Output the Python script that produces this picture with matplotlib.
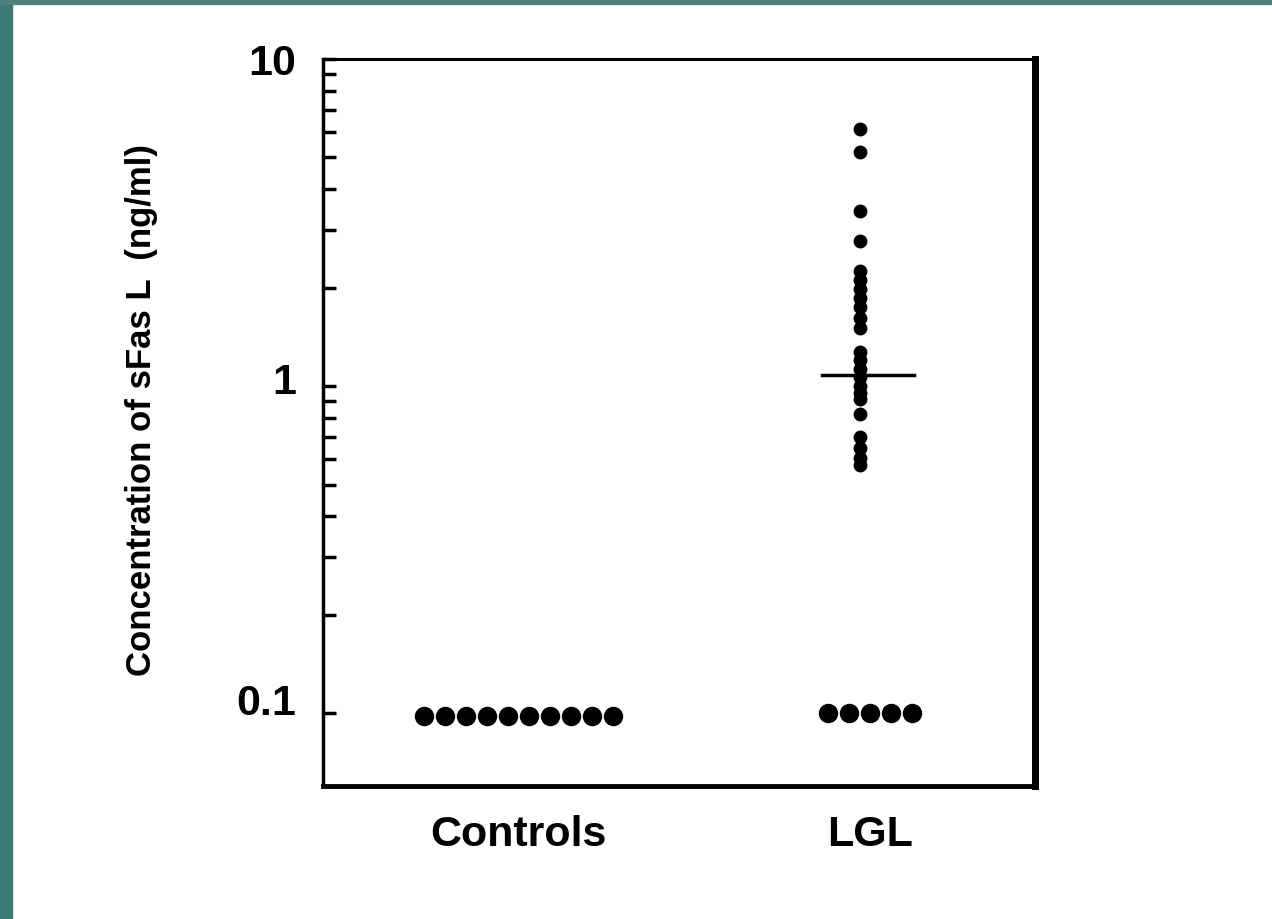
#grafico de concentracao de sFas L (controles x LGL)
import matplotlib.pyplot as plt
import matplotlib.patches as patches
import matplotlib.transforms as mtransforms
from matplotlib.ticker import NullFormatter, FixedLocator

#dados
grupos = ['Controls', 'LGL']
controles = [0.098]*10
lgl_zero = [0.1]*5
lgl = [6.1, 5.2, 3.42, 2.78, 2.25, 2.11, 1.98, 1.86, 1.74, 1.62, 1.51,
       1.27, 1.20, 1.13, 1.07, 1.0, 0.953, 0.914, 0.824, 0.698, 0.647,
       0.604, 0.575]
mediana_lgl = 1.08

plt.rcParams['font.family'] = ['Liberation Sans', 'DejaVu Sans']

fig = plt.figure(figsize=(12.72, 9.2), dpi=100)
fig.patch.set_facecolor('white')

#moldura verde-azulada da apresentacao
fig.patches.append(patches.Rectangle((0, 0), 12/1272, 1, transform=fig.transFigure,
                                     color='#3a7a77', zorder=0))
fig.patches.append(patches.Rectangle((0, 1-5/920), 1, 5/920, transform=fig.transFigure,
                                     color='#4e807c', zorder=0))

ax = fig.add_axes([323/1272, 1-787/920, (1035-323)/1272, (787-60)/920])
ax.set_yscale('log')
ax.set_ylim(0.06, 10)
ax.set_xlim(0.426, 2.514)

esp = 0.0616
xc = [1 + (i - (len(controles)-1)/2)*esp for i in range(len(controles))]
ax.plot(xc, controles, 'o', color='black', markersize=14, markeredgewidth=0)
xz = [2.03 + (i - (len(lgl_zero)-1)/2)*esp for i in range(len(lgl_zero))]
ax.plot(xz, lgl_zero, 'o', color='black', markersize=14, markeredgewidth=0)
ax.plot([2.0]*len(lgl), lgl, 'o', color='black', markersize=10, markeredgewidth=0)
ax.plot([1.89, 2.16], [mediana_lgl, mediana_lgl], color='black', lw=2.5)

#eixos
ax.spines['left'].set_linewidth(2.5)
ax.spines['top'].set_linewidth(2.2)
ax.spines['right'].set_linewidth(5)
ax.spines['bottom'].set_linewidth(3.5)

#ticks menores so entre 0.1 e 10
menores = [m*d for d in (0.1, 1) for m in range(2, 10)]
ax.yaxis.set_major_locator(FixedLocator([0.1, 1, 10]))
ax.yaxis.set_minor_locator(FixedLocator(menores))
ax.yaxis.set_minor_formatter(NullFormatter())
ax.set_yticklabels(['0.1', '1', '10'])
ax.tick_params(axis='y', which='both', direction='in', length=9, width=2.5,
               labelsize=31, pad=19)
desloc = {'0.1': 15, '1': 9, '10': 0}
for lab in ax.get_yticklabels():
    lab.set_fontweight('bold')
    off = mtransforms.ScaledTranslation(0, desloc[lab.get_text()]/100, fig.dpi_scale_trans)
    lab.set_transform(lab.get_transform() + off)

ax.set_xticks([1, 2.03])
ax.set_xticklabels(grupos, fontsize=31, fontweight='bold')
ax.tick_params(axis='x', length=0, pad=20)

fig.text(142/1272, 1-410/920, 'Concentration of sFas L  (ng/ml)', rotation=90,
         ha='center', va='center', fontsize=25, fontweight='bold')

plt.savefig('out.png', dpi=100)
